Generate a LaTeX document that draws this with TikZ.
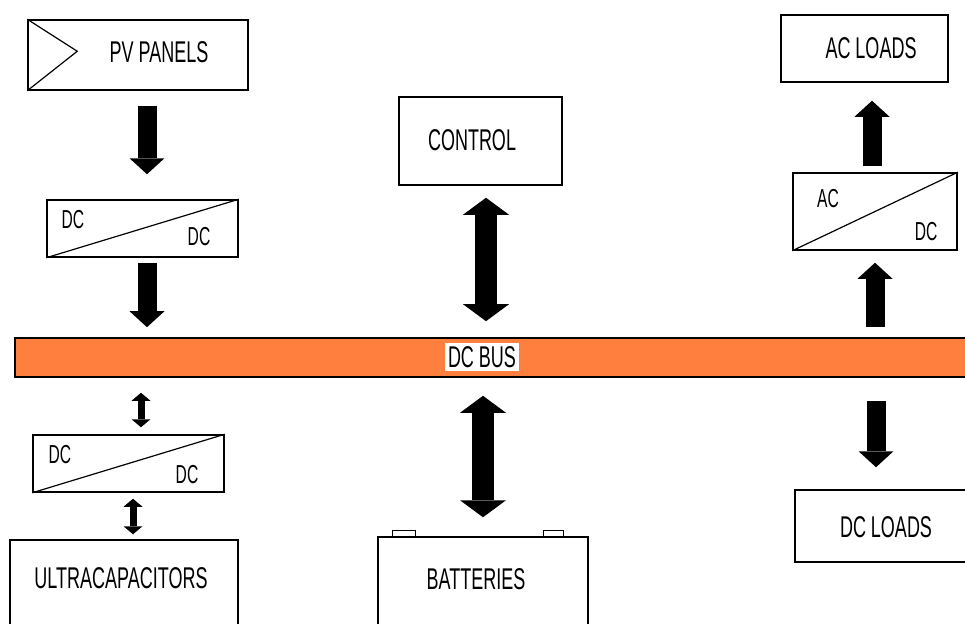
\documentclass[tikz,border=0pt]{standalone}
\usepackage{fontspec}
\setmainfont[FakeStretch=0.6]{Liberation Sans}
\usetikzlibrary{positioning,arrows.meta,calc}
\definecolor{busorange}{HTML}{FF7F3F}
\tikzset{
  box/.style={draw,line width=1.5pt,inner sep=0pt,fill=white},
  lbl/.style={inner sep=1pt,font=\fontsize{30}{32}\selectfont},
  sml/.style={inner sep=1pt,font=\fontsize{26}{28}\selectfont},
  fat/.style={line width=19pt,-{Triangle[length=16pt,width=35pt,line width=0pt]}},
  fatboth/.style={line width=22pt,{Triangle[length=17pt,width=46pt,line width=0pt]}-{Triangle[length=17pt,width=46pt,line width=0pt]}},
  slimboth/.style={line width=7pt,{Triangle[length=8pt,width=19pt,line width=0pt]}-{Triangle[length=8pt,width=19pt,line width=0pt]}}
}
\begin{document}
\begin{tikzpicture}[x=1pt,y=-1pt]
  \useasboundingbox (0,0) rectangle (965,623);
  % source side
  \node[box,minimum width=220pt,minimum height=70pt] (pv) at (138,55) {};
  \draw[line width=1.2pt] (pv.north west) -- ++(50,32) -- (pv.south west);
  \node[lbl] (pvtxt) at (159,52) {PV PANELS};
  \node[box,minimum width=191pt,minimum height=57pt] (dcdc1) at (142.5,228.5) {};
  \draw[line width=1.2pt] (dcdc1.south west) -- (dcdc1.north east);
  \node[sml] (dcdc1in) at (73,220) {DC};
  \node[sml] (dcdc1out) at (199,237) {DC};
  % bus and control
  \node[draw=black,line width=1.6pt,fill=busorange,inner sep=0pt,minimum width=960pt,minimum height=39pt] (bus) at (495,357.5) {};
  \node[lbl,fill=white,inner sep=3pt] (bustxt) at (482,357) {DC BUS};
  \node[box,minimum width=163pt,minimum height=88pt] (control) at (480.5,141) {};
  \node[lbl] (controltxt) at (472,140) {CONTROL};
  % load side
  \node[box,minimum width=167pt,minimum height=67pt] (acload) at (864.5,48.5) {};
  \node[lbl] (acloadtxt) at (871,48) {AC LOADS};
  \node[box,minimum width=164pt,minimum height=77pt] (acdc) at (875,211.5) {};
  \draw[line width=1.2pt] (acdc.south west) -- (acdc.north east);
  \node[sml] (acdcin) at (828,199) {AC};
  \node[sml] (acdcout) at (926,232) {DC};
  \node[box,minimum width=180pt,minimum height=72pt] (dcload) at (885,526) {};
  \node[lbl] (dcloadtxt) at (886,527) {DC LOADS};
  % storage side
  \node[box,minimum width=191pt,minimum height=57pt] (dcdc2) at (128.5,463.5) {};
  \draw[line width=1.2pt] (dcdc2.south west) -- (dcdc2.north east);
  \node[sml] (dcdc2in) at (60,455) {DC};
  \node[sml] (dcdc2out) at (187,475) {DC};
  \node[box,minimum width=228pt,minimum height=110pt] (ultra) at (124,595) {};
  \node[lbl] (ultratxt) at (121,578) {ULTRACAPACITORS};
  \node[box,minimum width=210pt,minimum height=110pt] (batt) at (483,592) {};
  \draw[line width=1pt,fill=white] ([xshift=15pt]batt.north west) rectangle ++(23,-6);
  \draw[line width=1pt,fill=white] ([xshift=-25pt]batt.north east) rectangle ++(-20,-6);
  \node[lbl] (batttxt) at (476,579) {BATTERIES};
  % power flow
  \draw[fat,shorten <=15pt,shorten >=25pt] ([xshift=9pt]pv.south) -- ([xshift=4.5pt]dcdc1.north);
  \draw[fat,shorten <=5pt,shorten >=10pt] ([xshift=4.5pt]dcdc1.south) -- ([xshift=4.5pt]dcdc1.south |- bus.north);
  \draw[fatboth,shorten <=12pt,shorten >=16pt] ([xshift=5.5pt]control.south) -- ([xshift=5.5pt]control.south |- bus.north);
  \draw[fat,shorten <=10pt,shorten >=12pt] (bus.north -| acdc.south) -- (acdc.south);
  \draw[fat,shorten <=6pt,shorten >=18pt] ([xshift=-3pt]acdc.north) -- ([xshift=-3pt]acdc.north |- acload.south);
  \draw[fat,shorten <=23pt,shorten >=22pt] ([xshift=-9pt]dcload.north |- bus.south) -- ([xshift=-9pt]dcload.north);
  \draw[fatboth,shorten <=18pt,shorten >=19pt] (bus.south -| batt.north) -- (batt.north);
  \draw[slimboth,shorten <=15pt,shorten >=7pt] ([xshift=12.5pt]dcdc2.north |- bus.south) -- ([xshift=12.5pt]dcdc2.north);
  \draw[slimboth,shorten <=6pt,shorten >=5pt] ([xshift=4.5pt]dcdc2.south) -- ([xshift=4.5pt]dcdc2.south |- ultra.north);
\end{tikzpicture}
\end{document}
